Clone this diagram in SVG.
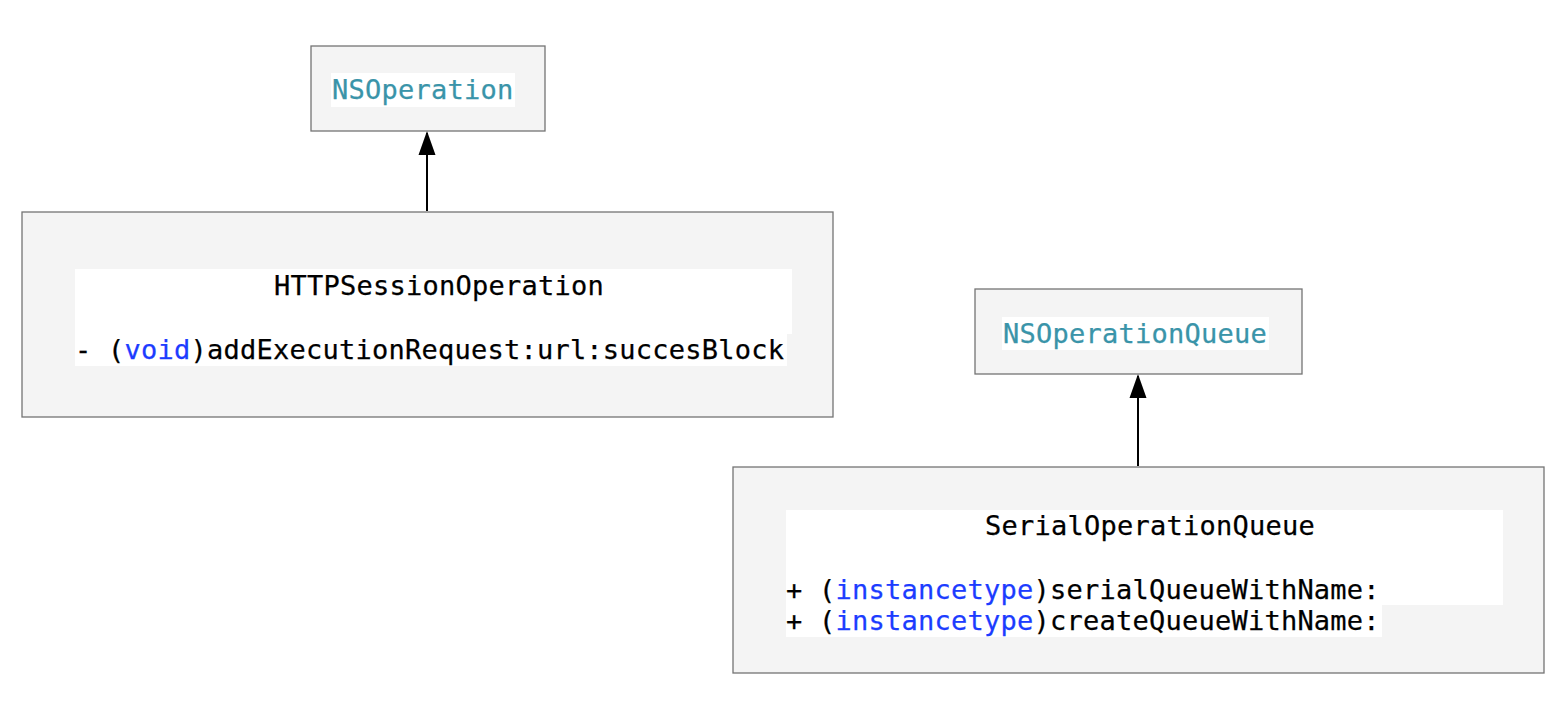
<svg xmlns="http://www.w3.org/2000/svg" width="1564" height="716" viewBox="0 0 1564 716">
<style>
.box{fill:#f4f4f4;stroke:#747474;stroke-width:1.3}
.bg{fill:#ffffff}
.t{font-family:"DejaVu Sans Mono","Liberation Mono",monospace;font-size:27px;letter-spacing:0.24px;fill:#000;stroke:#000;stroke-width:0.25}
.cls{fill:#3a94a9;stroke:#3a94a9}
.kw{fill:#1c3cff;stroke:#1c3cff}
.edge{stroke:#000;stroke-width:2;fill:none}
.head{fill:#000}
</style>
<g id="connectors">
<line class="edge" x1="427" y1="211" x2="427" y2="133"/>
<path class="head" d="M418.5,155 L427,131 L435.5,155 Z"/>
<line class="edge" x1="1138" y1="466" x2="1138" y2="376"/>
<path class="head" d="M1129.5,398 L1138,374 L1146.5,398 Z"/>
</g>
<g id="NSOperation">
<rect class="box" x="311" y="46" width="234" height="85"/>
<rect class="bg" x="331" y="73" width="184" height="34"/>
<text class="t cls" x="332" y="99">NSOperation</text>
</g>
<g id="HTTPSessionOperation">
<rect class="box" x="22" y="212" width="811" height="205"/>
<rect class="bg" x="75" y="269" width="717" height="65"/>
<rect class="bg" x="75" y="333" width="712" height="33"/>
<text class="t" x="274" y="295">HTTPSessionOperation</text>
<text class="t" x="75" y="358.5">- (<tspan class="kw">void</tspan>)addExecutionRequest:url:succesBlock</text>
</g>
<g id="NSOperationQueue">
<rect class="box" x="975" y="289" width="327" height="85"/>
<rect class="bg" x="1002" y="317" width="267" height="33"/>
<text class="t cls" x="1003" y="343">NSOperationQueue</text>
</g>
<g id="SerialOperationQueue">
<rect class="box" x="733" y="467" width="811" height="206"/>
<rect class="bg" x="786" y="510" width="717" height="95"/>
<rect class="bg" x="786" y="604" width="596" height="33"/>
<text class="t" x="985" y="535">SerialOperationQueue</text>
<text class="t" x="786" y="599">+ (<tspan class="kw">instancetype</tspan>)serialQueueWithName:</text>
<text class="t" x="786" y="630">+ (<tspan class="kw">instancetype</tspan>)createQueueWithName:</text>
</g>
</svg>
